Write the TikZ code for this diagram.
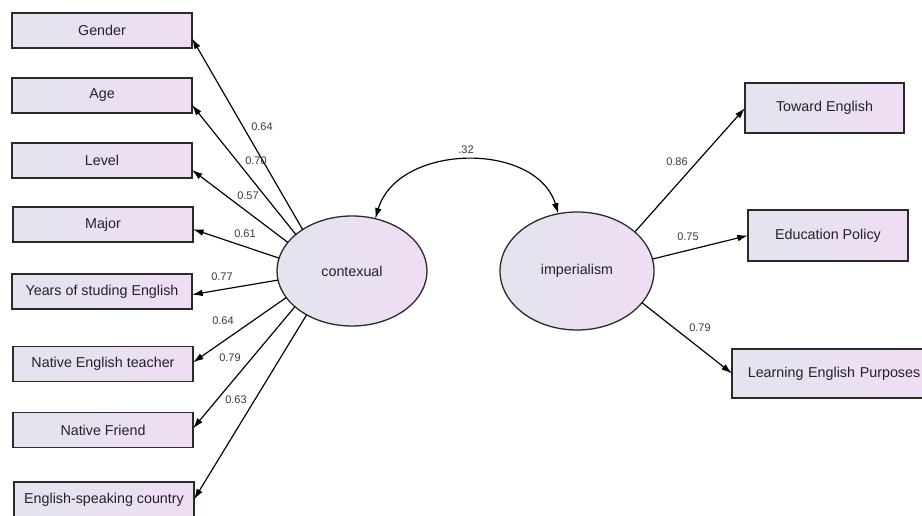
\documentclass[tikz,border=0pt]{standalone}
\usepackage{fontspec}
\setmainfont{Liberation Sans}
\usetikzlibrary{arrows.meta,shapes.geometric,calc}
\definecolor{txt}{HTML}{222228}
\definecolor{lab}{HTML}{3A3A3A}
\definecolor{fillA}{HTML}{E4E4EE}
\definecolor{fillB}{HTML}{EFDDF4}
\definecolor{edge}{HTML}{2A2A2A}
\begin{document}
\begin{tikzpicture}[x=0.03cm,y=-0.03cm,
  obs/.style={draw=edge,line width=1.2pt,rectangle,inner sep=0pt,outer sep=0pt,
    left color=fillA,right color=fillB,text=txt,
    font=\fontsize{12.2}{14}\selectfont},
  lbox/.style={obs,minimum width=5.4cm,minimum height=1.05cm},
  lat/.style={draw=edge,line width=1.1pt,ellipse,inner sep=0pt,outer sep=0pt,
    left color=fillA,right color=fillB,text=txt,
    font=\fontsize{12.2}{14}\selectfont},
  path/.style={draw=black,line width=1pt,-{Latex[length=3.2mm,width=2mm]}},
  coef/.style={text=lab,font=\fontsize{9.4}{11}\selectfont,inner sep=0pt}]
\useasboundingbox (0,0) rectangle (922,516);
\fill[white] (0,0) rectangle (922,516);
% left indicators
\node[lbox] (gender) at (102,30.5) {Gender};
\node[lbox] (age) at (102,95.5) {Age};
\node[lbox] (level) at (102,160.5) {Level};
\node[lbox] (major) at (103,224.5) {Major};
\node[lbox] (years) at (102,291.5) {Years of studing English};
\node[lbox] (teacher) at (103,364) {Native English teacher};
\node[lbox] (friend) at (103,430) {Native Friend};
\node[lbox] (country) at (104,499.5) {English-speaking country};
% latent variables
\node[lat,minimum width=4.5cm,minimum height=3.3cm] (ctx) at (352,271) {contexual};
\node[lat,minimum width=4.62cm,minimum height=3.54cm] (imp) at (577,271) {imperialism};
% right indicators
\node[obs,minimum width=4.77cm,minimum height=1.5cm] (toward) at (824.5,108) {Toward English};
\node[obs,minimum width=4.8cm,minimum height=1.53cm] (policy) at (828,235.5) {Education Policy};
\node[obs,minimum width=5.79cm,minimum height=1.47cm,text width=5.6cm,align=left] (purp) at (828.5,373.5) {\hspace*{0.38cm}Learning English Purposes};
% paths from contexual
\draw[path] (ctx.140) -- (gender.-5);
\draw[path] (ctx.147) -- (age.-6);
\draw[path] (ctx.156) -- (level.-6);
\draw[path] (ctx.170) -- (major.-3);
\draw[path] (ctx.187) -- (years.-2);
\draw[path] (ctx.202) -- (teacher.1);
\draw[path] (ctx.212) -- (friend.1);
\draw[path] (ctx.224) -- (country.0);
% paths from imperialism
\draw[path] (imp.34) -- (toward.west);
\draw[path] (imp.9) -- (policy.west);
\draw[path] (imp.-26) -- (purp.west);
% covariance
\draw[line width=1pt,{Latex[length=3.2mm,width=2mm]}-{Latex[length=3.2mm,width=2mm]}]
  (ctx.66) .. controls (398,143) and (536,141) .. (imp.108);
% coefficients
\node[coef] (c1) at (262,127) {0.64};
\node[coef] (c2) at (256,161) {0.70};
\node[coef] (c3) at (248,196) {0.57};
\node[coef] (c4) at (245,234) {0.61};
\node[coef] (c5) at (222,277) {0.77};
\node[coef] (c6) at (223,321) {0.64};
\node[coef] (c7) at (230,358) {0.79};
\node[coef] (c8) at (236,400) {0.63};
\node[coef] (c9) at (466,150) {.32};
\node[coef] (c10) at (677,162) {0.86};
\node[coef] (c11) at (688,237) {0.75};
\node[coef] (c12) at (700,328) {0.79};
\end{tikzpicture}
\end{document}
